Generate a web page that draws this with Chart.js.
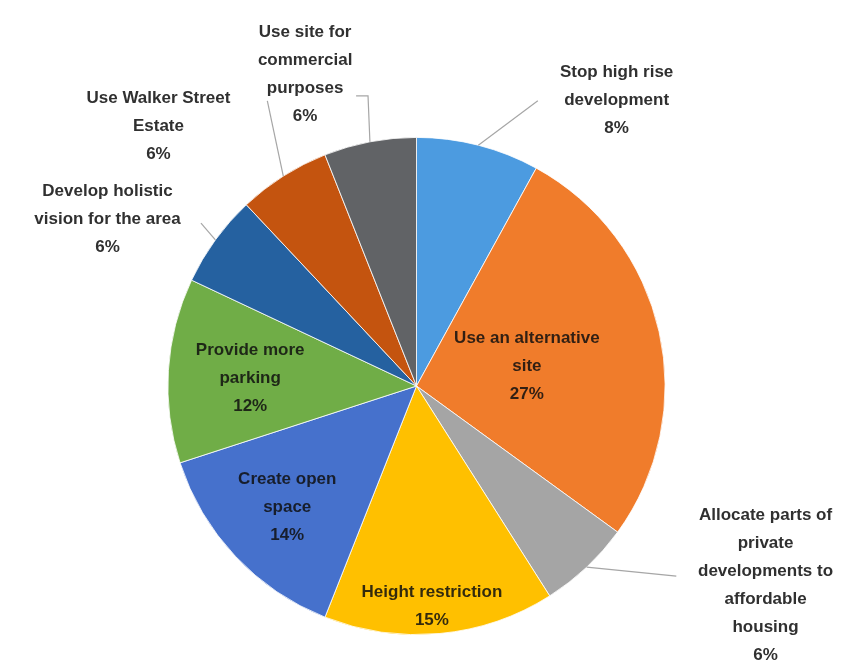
<!DOCTYPE html>
<html>
<head>
<meta charset="utf-8">
<script src="https://cdn.jsdelivr.net/npm/chart.js@4/dist/chart.umd.min.js"></script>
<style>
  html, body { margin: 0; padding: 0; background: #fff; }
  #wrap { width: 853px; height: 663px; }
</style>
</head>
<body>
<div id="wrap"><canvas id="pie"></canvas></div>
<script>
// data
const labels = [
  ['Stop high rise', 'development'],
  ['Use an alternative', 'site'],
  ['Allocate parts of', 'private', 'developments to', 'affordable', 'housing'],
  ['Height restriction'],
  ['Create open', 'space'],
  ['Provide more', 'parking'],
  ['Develop holistic', 'vision for the area'],
  ['Use Walker Street', 'Estate'],
  ['Use site for', 'commercial', 'purposes']
];
const values = [8, 27, 6, 15, 14, 12, 6, 6, 6];
const colors = ['#4c9be0', '#f07c2b', '#a5a5a5', '#ffc000', '#4671cc', '#70ad47', '#2561a0', '#c4540f', '#616366'];

// label placement, in units of the pie radius from its centre
// [x, y] of text block centre, optional leader end points
const labelPos = [
  { at: [0.805, -1.151], lead: [[0.488, -1.147]] },
  { at: [0.444, -0.078] },
  { at: [1.404, 0.803], lead: [[1.045, 0.765]] },
  { at: [0.062, 0.886] },
  { at: [-0.52, 0.488] },
  { at: [-0.669, -0.03] },
  { at: [-1.243, -0.671], lead: [[-0.867, -0.655]] },
  { at: [-1.038, -1.046], lead: [[-0.600, -1.147]] },
  { at: [-0.448, -1.255], lead: [[-0.195, -1.167], [-0.243, -1.167]] }
];

const lineH = 28;

const pieLabels = {
  id: 'pieLabels',
  afterDatasetsDraw(chart) {
    const ctx = chart.ctx;
    const meta = chart.getDatasetMeta(0);
    ctx.save();
    ctx.font = 'bold 17px "Liberation Sans", Arial, sans-serif';
    ctx.textAlign = 'center';
    ctx.textBaseline = 'middle';
    meta.data.forEach((arc, i) => {
      const cx = arc.x, cy = arc.y, r = arc.outerRadius;
      const p = labelPos[i];
      const pct = values[i] + '%';
      const lines = labels[i].concat([pct]);
      if (p.lead) {
        const mid = (arc.startAngle + arc.endAngle) / 2;
        ctx.strokeStyle = '#a6a6a6';
        ctx.lineWidth = 1.2;
        ctx.beginPath();
        ctx.moveTo(cx + Math.cos(mid) * r, cy + Math.sin(mid) * r);
        p.lead.forEach(pt => ctx.lineTo(cx + pt[0] * r, cy + pt[1] * r));
        ctx.stroke();
      }
      ctx.fillStyle = p.lead ? '#303030' : 'rgba(15,15,15,0.85)';
      const x = cx + p.at[0] * r;
      const y0 = cy + p.at[1] * r - (lines.length - 1) * lineH / 2;
      lines.forEach((t, k) => ctx.fillText(t, x, y0 + k * lineH));
    });
    ctx.restore();
  }
};

new Chart(document.getElementById('pie').getContext('2d'), {
  type: 'pie',
  data: {
    labels: labels.map(l => l.join(' ')),
    datasets: [{
      data: values,
      backgroundColor: colors,
      borderColor: '#ffffff',
      borderWidth: 0.8
    }]
  },
  options: {
    responsive: true,
    maintainAspectRatio: false,
    animation: false,
    layout: { padding: { top: 137, bottom: 28, left: 100, right: 120 } },
    plugins: {
      legend: { display: false },
      tooltip: { enabled: false }
    }
  },
  plugins: [pieLabels]
});
</script>
</body>
</html>
